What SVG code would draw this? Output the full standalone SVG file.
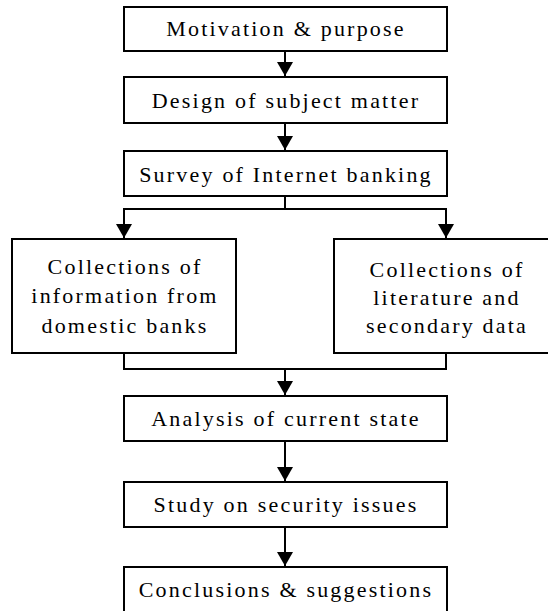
<svg xmlns="http://www.w3.org/2000/svg" width="548" height="611" viewBox="0 0 548 611">
<style>
.box{fill:#fff;stroke:#000;stroke-width:2}
.t{font-family:"Liberation Serif",serif;font-size:22px;letter-spacing:2.2px;fill:#000;text-anchor:middle}
.ln{fill:none;stroke:#000;stroke-width:2}
</style>
<defs>
<marker id="ah" markerWidth="14" markerHeight="16" refX="14" refY="8" orient="auto" markerUnits="userSpaceOnUse" viewBox="0 0 14 16">
<path d="M0,0 L14,8 L0,16 Z" fill="#000"/>
</marker>
</defs>
<rect width="548" height="611" fill="#fff"/>
<g id="connectors">
<line class="ln" x1="285" y1="51" x2="285" y2="76" marker-end="url(#ah)"/>
<line class="ln" x1="285" y1="123" x2="285" y2="150" marker-end="url(#ah)"/>
<polyline class="ln" points="285,196 285,209"/>
<polyline class="ln" points="124,209 446,209"/>
<line class="ln" x1="124" y1="208" x2="124" y2="238" marker-end="url(#ah)"/>
<line class="ln" x1="446" y1="208" x2="446" y2="238" marker-end="url(#ah)"/>
<polyline class="ln" points="124,353 124,369 446,369 446,353"/>
<line class="ln" x1="285" y1="369" x2="285" y2="395" marker-end="url(#ah)"/>
<line class="ln" x1="285" y1="441" x2="285" y2="481" marker-end="url(#ah)"/>
<line class="ln" x1="285" y1="527" x2="285" y2="566" marker-end="url(#ah)"/>
</g>
<g font-family="Liberation Serif, Times New Roman, serif">
<g id="n1"><rect class="box" x="124" y="7" width="323" height="44"/><text class="t" x="286" y="36">Motivation &amp; purpose</text></g>
<g id="n2"><rect class="box" x="124" y="77" width="323" height="46"/><text class="t" x="286" y="108">Design of subject matter</text></g>
<g id="n3"><rect class="box" x="124" y="151" width="323" height="45"/><text class="t" x="286" y="182">Survey of Internet banking</text></g>
<g id="n4"><rect class="box" x="12" y="239" width="224" height="114"/>
<text class="t" x="125" y="274">Collections of</text>
<text class="t" x="125" y="303">information from</text>
<text class="t" x="125" y="333">domestic banks</text></g>
<g id="n5"><rect class="box" x="334" y="239" width="224" height="114"/>
<text class="t" x="447" y="277">Collections of</text>
<text class="t" x="447" y="305">literature and</text>
<text class="t" x="447" y="333">secondary data</text></g>
<g id="n6"><rect class="box" x="124" y="396" width="323" height="45"/><text class="t" x="286" y="426">Analysis of current state</text></g>
<g id="n7"><rect class="box" x="124" y="482" width="323" height="45"/><text class="t" x="286" y="512">Study on security issues</text></g>
<g id="n8"><rect class="box" x="124" y="567" width="323" height="50"/><text class="t" x="286" y="597">Conclusions &amp; suggestions</text></g>
</g>
</svg>
